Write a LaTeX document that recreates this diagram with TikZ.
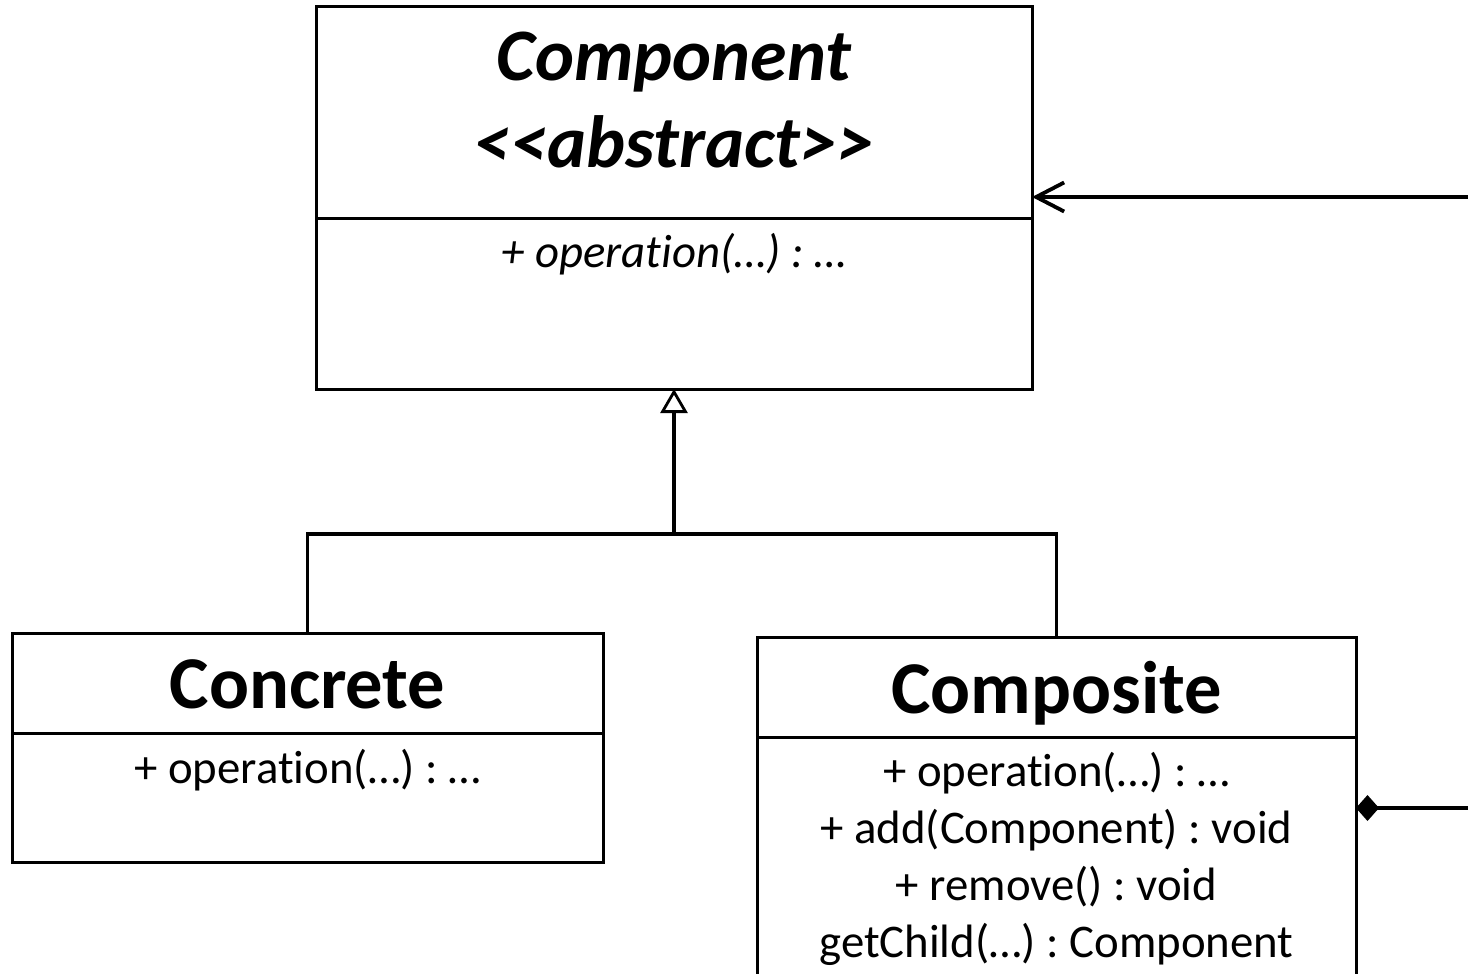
\documentclass[tikz,border=0pt]{standalone}
\usepackage{fontspec}
\setmainfont[Ligatures=NoCommon]{Carlito}
\usetikzlibrary{arrows.meta}
\frenchspacing
\begin{document}
\begin{tikzpicture}[x=1pt,y=-1pt,
  part/.style={draw, line width=3pt, inner sep=0pt, outer sep=0pt, anchor=north west},
  conn/.style={line width=3.8pt},
  abstitle/.style={anchor=base, font=\fontsize{74}{88}\selectfont\bfseries\itshape},
  classtitle/.style={anchor=base, font=\fontsize{74.5}{88}\selectfont\bfseries},
  member/.style={anchor=base, font=\fontsize{46.8}{57}\selectfont},
  absmember/.style={anchor=base, font=\fontsize{46.8}{57}\selectfont\itshape}]
\useasboundingbox (0,0) rectangle (1468,974);
\clip (0,0) rectangle (1468,974);

% Component (abstract)
\node[part, minimum width=716pt, minimum height=211pt] (comph) at (316,7) {};
\node[part, minimum width=716pt, minimum height=171pt] (compb) at (316,218) {};
\node[abstitle] (compt1) at (674,81) {Component};
\node[abstitle] (compt2) at (674,167) {<{}<abstract>{}>};
\node[absmember] (compm1) at (674,267) {+ operation(…) : …};

% Concrete
\node[part, minimum width=591pt, minimum height=100pt] (conch) at (12,633) {};
\node[part, minimum width=591pt, minimum height=129pt] (concb) at (12,733) {};
\node[classtitle] (conct) at (307.5,708) {Concrete};
\node[member] (concm1) at (307.5,783) {+ operation(…) : …};

% Composite
\node[part, minimum width=599pt, minimum height=100pt] (compoh) at (757,637) {};
\node[part, minimum width=599pt, minimum height=320pt] (compob) at (757,737) {};
\node[classtitle] (compot) at (1056.5,713) {Composite};
\node[member] (compom1) at (1056.5,786) {+ operation(…) : …};
\node[member] (compom2) at (1056.5,843) {+ add(Component) : void};
\node[member] (compom3) at (1056.5,900) {+ remove() : void};
\node[member] (compom4) at (1056.5,957) {getChild(…) : Component};

% Generalisation
\coordinate (bus) at (674,534);
\draw[conn] (conch.north) -- (conch.north |- bus) -- (compoh.north |- bus) -- (compoh.north);
\draw[conn, -{Triangle[open, length=24pt, width=27pt, line width=2.8pt]}] (bus) -- (compb.south);

% Associations leaving to the right
\coordinate (refin) at (1468,197);
\draw[conn, -{Straight Barb[length=28pt, width=29pt, line width=3.8pt]}] (refin) -- (comph.east |- refin);
\coordinate (refout) at (1468,808);
\draw[conn, -{Diamond[length=23pt, width=26pt]}] (refout) -- (compob.east |- refout);
\end{tikzpicture}
\end{document}
